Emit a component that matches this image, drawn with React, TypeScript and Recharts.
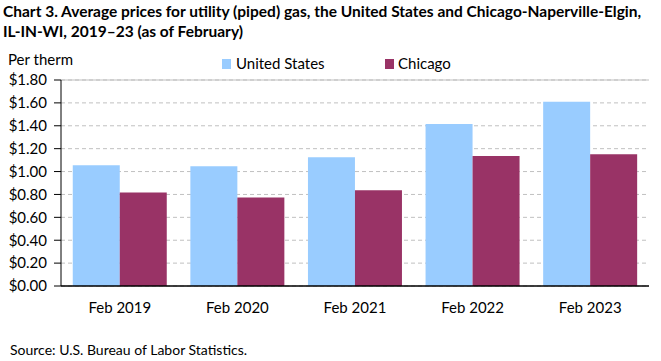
import { BarChart, Bar, XAxis, YAxis, CartesianGrid, ReferenceLine } from "recharts";

const categories = ["Feb 2019", "Feb 2020", "Feb 2021", "Feb 2022", "Feb 2023"];
const usPrices = [1.055, 1.047, 1.126, 1.416, 1.61];
const chicagoPrices = [0.818, 0.774, 0.836, 1.135, 1.152];
const yTicks = [0, 0.2, 0.4, 0.6, 0.8, 1.0, 1.2, 1.4, 1.6, 1.8];

const US_COLOR = "#99ccff";
const CHI_COLOR = "#993366";
const FONT = "Lato, 'DejaVu Sans', sans-serif";

const data = categories.map((name, i) => ({
  name,
  us: usPrices[i],
  chicago: chicagoPrices[i],
}));

export default function App() {
  return (
    <div
      style={{
        position: "absolute",
        top: 0,
        left: 0,
        width: 661,
        height: 361,
        background: "#fff",
        fontFamily: FONT,
      }}
    >
      <BarChart
        width={661}
        height={361}
        data={data}
        margin={{ top: 80, right: 12, bottom: 45, left: 0 }}
        barCategoryGap="10%"
        barGap={0}
      >
        <CartesianGrid
          vertical={false}
          stroke="#c0c0c0"
          strokeDasharray="4 3"
        />
        <XAxis
          dataKey="name"
          height={30}
          tickLine={false}
          axisLine={{ stroke: "#000", strokeWidth: 1.5 }}
          tickMargin={10}
          tick={{ fill: "#000", fontSize: 15, fontFamily: FONT }}
        />
        <YAxis
          width={61}
          domain={[0, 1.8]}
          ticks={yTicks}
          interval={0}
          tickFormatter={(v: number) => `$${v.toFixed(2)}`}
          axisLine={{ stroke: "#000" }}
          tickLine={{ stroke: "#000" }}
          tickSize={7}
          tickMargin={7}
          tick={{ fill: "#000", fontSize: 15, fontFamily: FONT }}
        />
        <YAxis
          yAxisId="right"
          orientation="right"
          width={0}
          domain={[0, 1.8]}
          tick={false}
          tickLine={false}
          axisLine={{ stroke: "#bfbfbf" }}
        />
        <ReferenceLine y={1.8} stroke="#bfbfbf" />
        <Bar dataKey="us" fill={US_COLOR} isAnimationActive={false} />
        <Bar dataKey="chicago" fill={CHI_COLOR} isAnimationActive={false} />
      </BarChart>

      {/* title, unit label, legend and source */}
      <svg
        width={661}
        height={361}
        style={{ position: "absolute", top: 0, left: 0, pointerEvents: "none" }}
      >
        <g fontFamily={FONT} fill="#000">
          <text x={3} y={17} fontSize={15.5} fontWeight="bold">
            Chart 3. Average prices for utility (piped) gas, the United States and Chicago-Naperville-Elgin,
          </text>
          <text x={3} y={37} fontSize={15.5} fontWeight="bold">
            IL-IN-WI, 2019–23 (as of February)
          </text>
          <text x={8} y={65} fontSize={15}>
            Per therm
          </text>
          <rect x={222} y={59} width={9} height={10} fill={US_COLOR} />
          <text x={236} y={68.5} fontSize={15}>
            United States
          </text>
          <rect x={385} y={59} width={9} height={10} fill={CHI_COLOR} />
          <text x={398} y={68.5} fontSize={15}>
            Chicago
          </text>
          <text x={10} y={355} fontSize={14}>
            Source: U.S. Bureau of Labor Statistics.
          </text>
        </g>
      </svg>
    </div>
  );
}
